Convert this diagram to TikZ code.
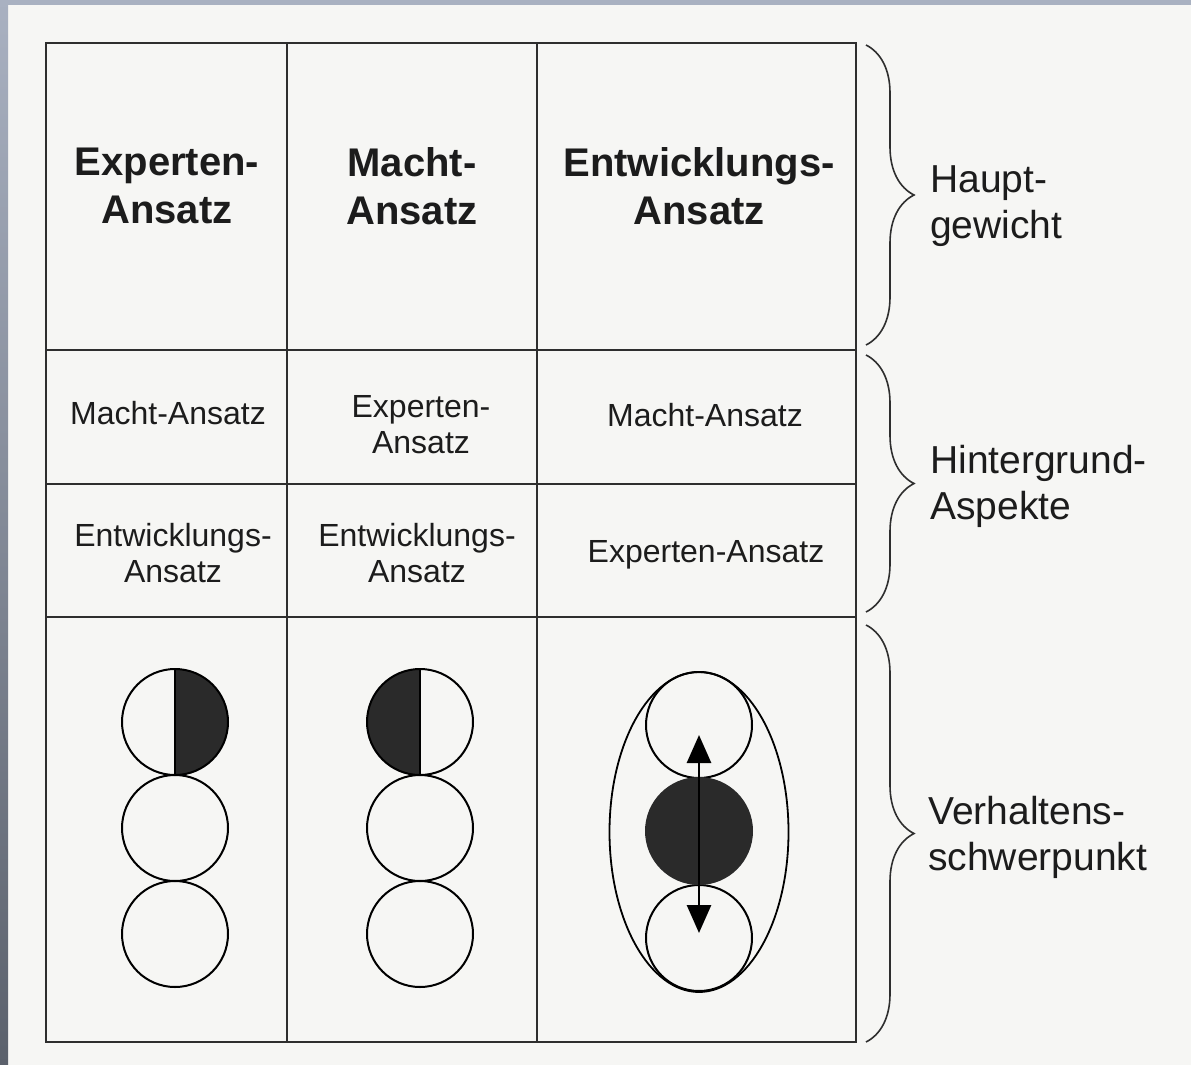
\documentclass[tikz,border=0pt]{standalone}
\usepackage{fontspec}
\setmainfont{Liberation Sans}
\usetikzlibrary{arrows.meta,decorations.pathreplacing}
\definecolor{paper}{HTML}{F6F6F4}
\definecolor{ink}{HTML}{1C1C1C}
\definecolor{rulec}{HTML}{2E2E2E}
\definecolor{darkfill}{HTML}{2A2A2A}
\definecolor{edgetop}{HTML}{A9B1C1}
\definecolor{edgebot}{HTML}{5B616C}
\begin{document}
\begin{tikzpicture}[x=1pt,y=-1pt,
  tableline/.style={draw=rulec, line width=1.6pt},
  hdr/.style={text=ink, align=center, inner sep=0pt, font=\bfseries\fontsize{40}{48}\selectfont},
  cell/.style={text=ink, align=center, inner sep=0pt, font=\fontsize{32}{36}\selectfont},
  sidelabel/.style={text=ink, align=left, inner sep=0pt, anchor=west, font=\fontsize{39}{46}\selectfont},
  bracepath/.style={draw=rulec, line width=1.6pt, decorate, decoration={brace, amplitude=48pt}},
  ring/.style={circle, draw=black, line width=2pt, minimum size=106pt, inner sep=0pt},
  updown/.style={draw=black, line width=2.8pt, -{Triangle[width=24pt,length=28pt]}}
]
\useasboundingbox (0,0) rectangle (1191,1065);
\fill[paper] (0,0) rectangle (1191,1065);
\shade[top color=edgetop, bottom color=edgebot] (0,0) rectangle (8,1065);
\fill[edgetop] (0,0) rectangle (1191,5);

% table
\draw[tableline] (46,43) rectangle (856,1042);
\draw[tableline] (287,43) -- (287,1042);
\draw[tableline] (537,43) -- (537,1042);
\draw[tableline] (46,350) -- (856,350);
\draw[tableline] (46,484) -- (856,484);
\draw[tableline] (46,617) -- (856,617);

% header row
\node[hdr] (h1) at (167,186) {Experten-\\Ansatz};
\node[hdr] (h2) at (412,186) {Macht-\\Ansatz};
\node[hdr] (h3) at (699,186) {Entwicklungs-\\Ansatz};

% background rows
\node[cell, anchor=base] (r21) at (168,424) {Macht-Ansatz};
\node[cell] (r22) at (421,425) {Experten-\\Ansatz};
\node[cell, anchor=base] (r23) at (705,426) {Macht-Ansatz};
\node[cell] (r31) at (173,553) {Entwicklungs-\\Ansatz};
\node[cell] (r32) at (417,553) {Entwicklungs-\\Ansatz};
\node[cell, anchor=base] (r33) at (706,562) {Experten-Ansatz};

% behaviour row: column 1
\fill[darkfill] (175,722) ++(0,-53) arc[start angle=-90, end angle=90, radius=53] -- cycle;
\draw[black, line width=2pt] (175,669) -- (175,775);
\node[ring] (a1) at (175,722) {};
\node[ring] (a2) at (175,828) {};
\node[ring] (a3) at (175,934) {};

% column 2
\fill[darkfill] (420,722) ++(0,-53) arc[start angle=-90, end angle=-270, radius=53] -- cycle;
\draw[black, line width=2pt] (420,669) -- (420,775);
\node[ring] (b1) at (420,722) {};
\node[ring] (b2) at (420,828) {};
\node[ring] (b3) at (420,934) {};

% column 3
\draw[black, line width=1.8pt] (699,832) ellipse [x radius=89.5, y radius=160];
\node[ring] (c1) at (699,725) {};
\node[ring] (c3) at (699,938) {};
\node[circle, fill=darkfill, minimum size=108pt, inner sep=0pt] (core) at (699,831) {};
\coordinate (tipup) at (699,735);
\coordinate (tipdown) at (699,933);
\draw[updown] (core.center) -- (tipup);
\draw[updown] (core.center) -- (tipdown);

% braces
\draw[bracepath] (866,45) -- (866,345);
\draw[bracepath] (866,355) -- (866,612);
\draw[bracepath] (866,625) -- (866,1042);

\node[sidelabel] (l1) at (930,206) {Haupt-\\gewicht};
\node[sidelabel] (l2) at (930,486) {Hintergrund-\\Aspekte};
\node[sidelabel] (l3) at (928,837) {Verhaltens-\\schwerpunkt};
\end{tikzpicture}
\end{document}
